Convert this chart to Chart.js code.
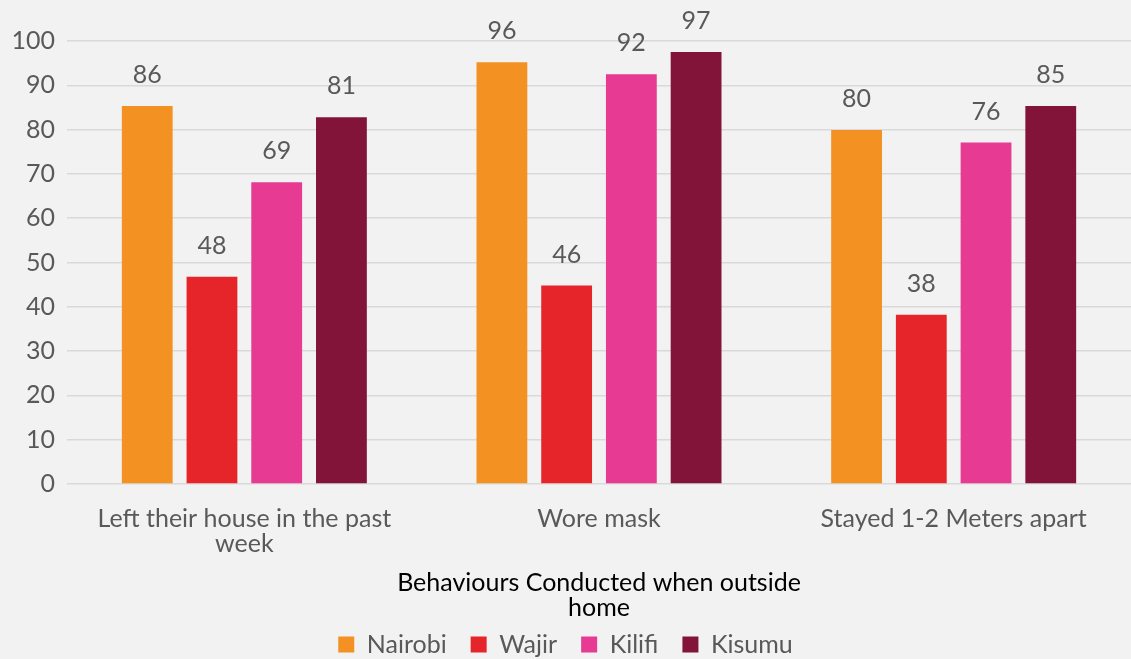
<!DOCTYPE html>
<html>
<head>
<meta charset="utf-8">
<script src="https://cdn.jsdelivr.net/npm/chart.js@4/dist/chart.umd.min.js"></script>
<style>
  html, body { margin: 0; padding: 0; background: #f2f2f2; }
  #wrap { width: 1131px; height: 659px; }
</style>
</head>
<body>
<div id="wrap"><canvas id="chart"></canvas></div>
<script>
// categories (wrapped the way the original shows them)
const categories = [
  ['Left their house in the past', 'week'],
  'Wore mask',
  'Stayed 1-2 Meters apart'
];
const seriesNames = ['Nairobi', 'Wajir', 'Kilifi', 'Kisumu'];
const seriesColors = ['#f39223', '#e6252a', '#e73a92', '#811438'];

// bar heights as drawn
const nairobi = [85.3, 95.2, 79.9];
const wajir   = [46.8, 44.8, 38.2];
const kilifi  = [68.1, 92.5, 77.1];
const kisumu  = [82.8, 97.5, 85.3];

// value labels printed above the bars
const nairobiLabels = ['86', '96', '80'];
const wajirLabels   = ['48', '46', '38'];
const kilifiLabels  = ['69', '92', '76'];
const kisumuLabels  = ['81', '97', '85'];

const yTicks = [0, 10, 20, 30, 40, 50, 60, 70, 80, 90, 100];
const xTitle = ['Behaviours Conducted when outside', 'home'];

const FONT = 'Lato, "Open Sans", sans-serif';
const GREY = '#595959';
const SIZE = 25;

const allValues = [nairobi, wajir, kilifi, kisumu];
const allLabels = [nairobiLabels, wajirLabels, kilifiLabels, kisumuLabels];

// simple value label plugin (no datalabels available offline)
const valueLabels = {
  id: 'valueLabels',
  afterDatasetsDraw(chart) {
    const ctx = chart.ctx;
    ctx.save();
    ctx.font = SIZE + 'px ' + FONT;
    ctx.fillStyle = GREY;
    ctx.textAlign = 'center';
    ctx.textBaseline = 'middle';
    chart.data.datasets.forEach((ds, i) => {
      const meta = chart.getDatasetMeta(i);
      meta.data.forEach((bar, j) => {
        ctx.fillText(ds.valueLabels[j], bar.x, bar.y - 31);
      });
    });
    ctx.restore();
  }
};

const bg = {
  id: 'bg',
  beforeDraw(chart) {
    const ctx = chart.ctx;
    ctx.save();
    ctx.fillStyle = '#f2f2f2';
    ctx.fillRect(0, 0, chart.width, chart.height);
    ctx.restore();
  }
};

new Chart(document.getElementById('chart'), {
  type: 'bar',
  data: {
    labels: categories,
    datasets: seriesNames.map((name, i) => ({
      label: name,
      data: allValues[i],
      valueLabels: allLabels[i],
      backgroundColor: seriesColors[i],
      categoryPercentage: 0.73,
      barPercentage: 0.785
    }))
  },
  options: {
    responsive: true,
    maintainAspectRatio: false,
    animation: false,
    // legend padding is wide (for the gaps between items), so let it hang off the bottom a bit
    layout: { padding: { top: 41, right: 0, left: 0, bottom: -8 } },
    plugins: {
      tooltip: { enabled: false },
      legend: {
        position: 'bottom',
        labels: {
          color: GREY,
          font: { family: FONT, size: SIZE },
          boxWidth: 16,
          boxHeight: 16,
          padding: 24
        }
      }
    },
    scales: {
      x: {
        afterFit(scale) { scale.height = 124; },
        grid: { display: false },
        border: { display: false },
        ticks: { color: GREY, font: { family: FONT, size: SIZE, lineHeight: 1.0 }, maxRotation: 0, padding: 14 },
        title: {
          display: true,
          text: xTitle,
          color: '#000',
          font: { family: FONT, size: SIZE, lineHeight: 1.0 },
          padding: { top: 0, bottom: -12 }
        }
      },
      y: {
        min: 0,
        max: 100,
        afterBuildTicks(scale) { scale.ticks = yTicks.map(v => ({ value: v })); },
        afterFit(scale) { scale.width = 67; },
        grid: { color: '#d9d9d9', lineWidth: 1.5, drawTicks: false },
        border: { display: false },
        ticks: { color: GREY, font: { family: FONT, size: SIZE }, padding: 12 }
      }
    }
  },
  plugins: [bg, valueLabels]
});
</script>
</body>
</html>
